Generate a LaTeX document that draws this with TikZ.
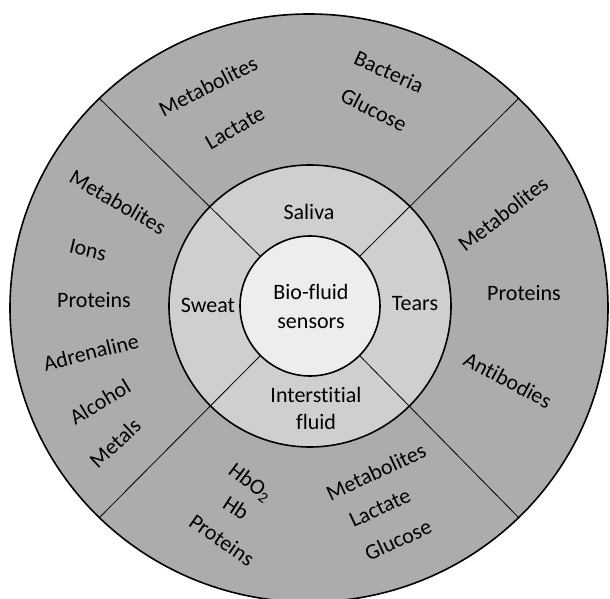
\documentclass[tikz,border=0pt]{standalone}
\usepackage{fontspec}
\setmainfont[Ligatures=CommonOff]{Carlito}
\usetikzlibrary{shapes.geometric}
\definecolor{outergray}{RGB}{172,172,172}
\definecolor{middlegray}{RGB}{207,207,207}
\definecolor{innergray}{RGB}{237,237,237}
\newcommand\sectorfont{\fontsize{22}{27}\selectfont}

\begin{document}
\begin{tikzpicture}[x=1pt, y=1pt,
    ring/.style={draw, line width=1.6pt, inner sep=0},
    divider/.style={line width=0.8pt},
    lbl/.style={font=\sectorfont, align=center, inner sep=1pt}]
    \useasboundingbox (0,0) rectangle (610,599);
    %% rings
    \draw (309,291) node[ring, ellipse, fill=outergray, minimum width=598pt, minimum height=588pt](outer){} ;
    \draw (310,293) node[ring, circle, fill=middlegray, minimum size=282pt](middle){} ;
    \draw (310,293) node[ring, circle, fill=innergray, minimum size=140pt](inner){} ;
    %% -- dividers
    \draw[divider] (inner.45) -- (outer.45) ;
    \draw[divider] (inner.135) -- (outer.135) ;
    \draw[divider] (inner.225) -- (outer.225) ;
    \draw[divider] (inner.315) -- (outer.315) ;
    %% centre
    \draw (311,293) node[lbl](sensors){Bio-fluid\\[2pt]sensors} ;
    %% bio-fluids
    \draw (309,387) node[lbl](saliva){Saliva} ;
    \draw (208,294) node[lbl](sweat){Sweat} ;
    \draw (415,295) node[lbl](tears){Tears} ;
    \draw (316,191) node[lbl](interstitial){Interstitial\\fluid} ;
    %% analytes
    %% -- saliva
    \draw (208,513) node[lbl, rotate=27](salMetab){Metabolites} ;
    \draw (235,471) node[lbl, rotate=30](salLact){Lactate} ;
    \draw (389,527) node[lbl, rotate=-24](salBact){Bacteria} ;
    \draw (374,489) node[lbl, rotate=-27](salGluc){Glucose} ;
    %% -- sweat
    \draw (118,397) node[lbl, rotate=-30](swMetab){Metabolites} ;
    \draw (88,349) node[lbl, rotate=-13](swIons){Ions} ;
    \draw (94,299) node[lbl](swProt){Proteins} ;
    \draw (91,247) node[lbl, rotate=14](swAdren){Adrenaline} ;
    \draw (100,197) node[lbl, rotate=31](swAlc){Alcohol} ;
    \draw (115,156) node[lbl, rotate=43](swMetal){Metals} ;
    %% -- tears
    \draw (503,385) node[lbl, rotate=38](teMetab){Metabolites} ;
    \draw (524,306) node[lbl](teProt){Proteins} ;
    \draw (508,219) node[lbl, rotate=-28](teAnti){Antibodies} ;
    %% -- interstitial fluid
    \draw (250,116) node[lbl, rotate=-37](isfHbO){HbO\textsubscript{2}} ;
    \draw (236,91) node[lbl, rotate=-33](isfHb){Hb} ;
    \draw (222,59) node[lbl, rotate=-35](isfProt){Proteins} ;
    \draw (376,127) node[lbl, rotate=25](isfMetab){Metabolites} ;
    \draw (380,91) node[lbl, rotate=25](isfLact){Lactate} ;
    \draw (398,59) node[lbl, rotate=25](isfGluc){Glucose} ;
\end{tikzpicture}
\end{document}
